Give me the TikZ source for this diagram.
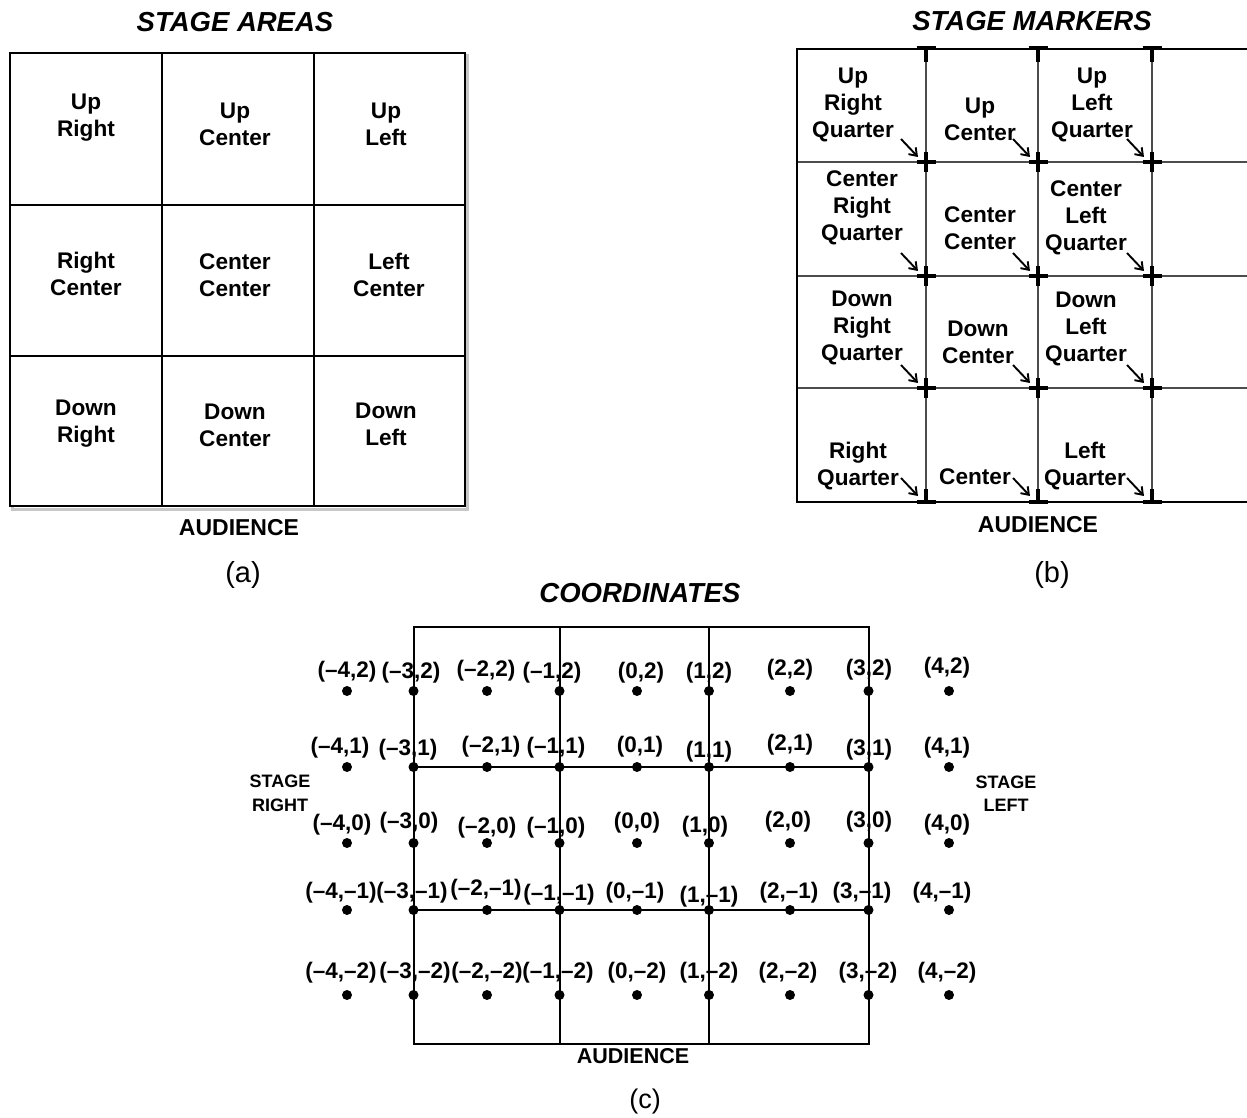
\documentclass[tikz,border=0pt]{standalone}
\usepackage{fontspec}
\setmainfont{Liberation Sans}
\usetikzlibrary{arrows.meta,calc}
\newcommand\sgnlbl[1]{\ifnum#1<0 –\the\numexpr-#1\relax\else#1\fi}
\begin{document}
\begin{tikzpicture}[x=1pt,y=-1pt,
  cell/.style={align=center,font=\fontsize{22.6}{27}\selectfont\bfseries,inner sep=0pt},
  titletext/.style={font=\fontsize{27.5}{30}\selectfont\bfseries\itshape,inner sep=0pt},
  aud/.style={font=\fontsize{23}{26}\selectfont\bfseries,inner sep=0pt},
  captext/.style={font=\fontsize{29}{32}\selectfont,inner sep=0pt},
  coordlbl/.style={font=\fontsize{22.5}{24}\selectfont\bfseries,inner sep=0pt},
  sidetext/.style={align=center,font=\fontsize{18}{23.5}\selectfont\bfseries,inner sep=0pt},
  dot/.style={circle,fill=black,inner sep=0pt,minimum size=10pt},
  frameline/.style={line width=2.4pt},
  gridline/.style={line width=2pt},
  thinline/.style={line width=1.1pt,black!70},
  markerline/.style={line width=3.8pt},
  pointer/.style={-{Straight Barb[length=7pt,width=10pt]},line width=1.9pt}]
\useasboundingbox (0,0) rectangle (1247,1118);

% ---------------- panel (a)
\draw[line width=3pt,black!22] (12.5,56) rectangle (467.5,509);
\fill[white] (10,53) rectangle (465,506);
\draw[frameline] (10,53) rectangle (465,506);
\draw[gridline] (162,53) -- (162,506) (314,53) -- (314,506)
                (10,205) -- (465,205) (10,356) -- (465,356);
\node[titletext] (tA) at (235,22) {STAGE AREAS};
\node[cell] (aUR) at (86,118) {Up\\Right};
\node[cell] (aUC) at (235,124) {Up\\Center};
\node[cell] (aUL) at (386,124) {Up\\Left};
\node[cell] (aRC) at (86,274) {Right\\Center};
\node[cell] (aCC) at (235,275) {Center\\Center};
\node[cell] (aLC) at (389,275) {Left\\Center};
\node[cell] (aDR) at (86,424) {Down\\Right};
\node[cell] (aDC) at (235,425) {Down\\Center};
\node[cell] (aDL) at (386,424) {Down\\Left};
\node[aud] (audA) at (239,528) {AUDIENCE};
\node[captext] (capA) at (243,575) {(a)};

% ---------------- panel (b)
\draw[thinline] (797,162) -- (1247,162) (797,276) -- (1247,276) (797,388) -- (1247,388);
\draw[thinline] (926,49) -- (926,502) (1038,49) -- (1038,502) (1152,49) -- (1152,502);
\draw[line width=2.2pt] (1247,49) -- (797,49) -- (797,502) -- (1247,502);
\foreach \xx/\c in {926/1,1038/2,1152/3}{
  \coordinate (mt\c) at (\xx,49);
  \coordinate (mb\c) at (\xx,502);
  \draw[markerline] ($(mt\c)+(-9.5,-1)$) -- ($(mt\c)+(9.5,-1)$) (mt\c) -- ($(mt\c)+(0,13)$);
  \draw[markerline] ($(mb\c)+(-9.5,0)$) -- ($(mb\c)+(9.5,0)$) (mb\c) -- ($(mb\c)+(0,-13)$);
  \foreach \yy/\r in {162/1,276/2,388/3}{
    \coordinate (m\r\c) at (\xx,\yy);
    \draw[markerline] ($(m\r\c)+(-9.5,0)$) -- ($(m\r\c)+(9.5,0)$) ($(m\r\c)+(0,-10)$) -- ($(m\r\c)+(0,10)$);
  }
}
\node[titletext] (tB) at (1032,21) {STAGE MARKERS};
\node[cell] (bURQ) at (853,105) {Up\\Right\\Quarter};
\node[cell] (bUC)  at (980,119) {Up\\Center};
\node[cell] (bULQ) at (1092,105) {Up\\Left\\Quarter};
\node[cell] (bCRQ) at (862,207.5) {Center\\Right\\Quarter};
\node[cell] (bCC)  at (980,228) {Center\\Center};
\node[cell] (bCLQ) at (1086,218) {Center\\Left\\Quarter};
\node[cell] (bDRQ) at (862,328) {Down\\Right\\Quarter};
\node[cell] (bDC)  at (978,342.5) {Down\\Center};
\node[cell] (bDLQ) at (1086,329) {Down\\Left\\Quarter};
\node[cell] (bRQ)  at (858,466) {Right\\Quarter};
\node[cell] (bC)   at (975,477) {Center};
\node[cell] (bLQ)  at (1085,466) {Left\\Quarter};
\foreach \r in {1,2,3}{
  \foreach \c in {1,2,3}{
    \coordinate (p\r\c) at ($(m\r\c)+(-25,-23)$);
    \draw[pointer] (p\r\c) -- ($(m\r\c)+(-8,-5)$);
  }
}
\foreach \c in {1,2,3}{
  \coordinate (pb\c) at ($(mb\c)+(-25,-24)$);
  \draw[pointer] (pb\c) -- ($(mb\c)+(-8,-6)$);
}
\node[aud] (audB) at (1038,525) {AUDIENCE};
\node[captext] (capB) at (1052,575) {(b)};

% ---------------- panel (c)
\node[titletext] (tC) at (640,593) {COORDINATES};
\draw[gridline] (413.5,627) rectangle (868.5,1044);
\draw[gridline] (559.5,627) -- (559.5,1044) (709,627) -- (709,1044);
\draw[line width=2.3pt] (413.5,767) -- (868.5,767) (413.5,910) -- (868.5,910);
\foreach \i/\xx in {-4/347,-3/413.5,-2/487,-1/559.5,0/637,1/709,2/790,3/868.5,4/949}{
  \foreach \j/\yy in {2/691,1/767,0/843,-1/910,-2/995}{
    \node[dot] (d\i\j) at (\xx,\yy) {};
  }
}
\foreach \i/\j/\lx/\ly in {
  -4/2/347/672, -3/2/411/673, -2/2/486/671, -1/2/552/673, 0/2/641/673, 1/2/709/673, 2/2/790/670, 3/2/869/670, 4/2/947/668,
  -4/1/340/748, -3/1/408/750, -2/1/491/747, -1/1/556/748, 0/1/640/747, 1/1/709/752, 2/1/790/745, 3/1/869/750, 4/1/947/748,
  -4/0/342/825, -3/0/409/823, -2/0/487/828, -1/0/556/828, 0/0/637/823, 1/0/705/827, 2/0/788/822, 3/0/869/822, 4/0/947/825,
  -4/-1/341/893, -3/-1/412/893, -2/-1/486/890, -1/-1/559/895, 0/-1/635/893, 1/-1/709/897, 2/-1/789/893, 3/-1/862/893, 4/-1/942/893,
  -4/-2/341/973, -3/-2/415/973, -2/-2/487/973, -1/-2/558/973, 0/-2/637/973, 1/-2/709/973, 2/-2/788/973, 3/-2/868/973, 4/-2/947/973}{
  \node[coordlbl] (l\i\j) at (\lx,\ly) {(\sgnlbl{\i},\sgnlbl{\j})};
}
\node[sidetext] (sr) at (280,793.5) {STAGE\\RIGHT};
\node[sidetext] (sl) at (1006,793.5) {STAGE\\LEFT};
\node[aud,font=\fontsize{21.5}{24}\selectfont\bfseries] (audC) at (633,1056) {AUDIENCE};
\node[captext,font=\fontsize{27}{30}\selectfont] (capC) at (645,1102) {(c)};
\end{tikzpicture}
\end{document}
